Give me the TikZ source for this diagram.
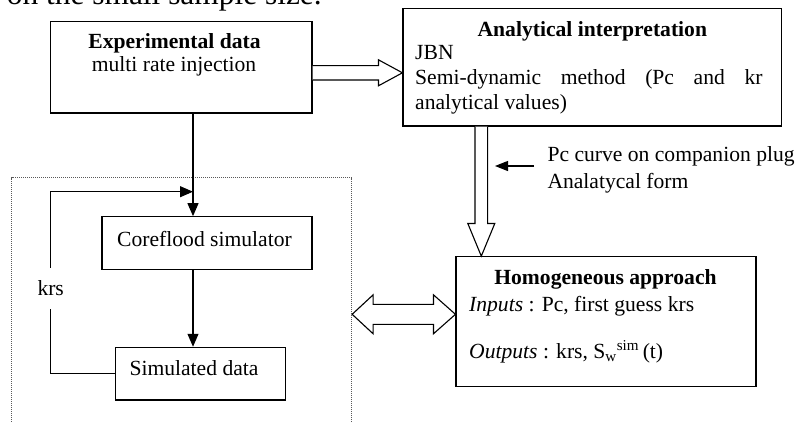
\documentclass[tikz,border=0pt]{standalone}
\usepackage{fontspec}
\setmainfont{Liberation Serif}
\usetikzlibrary{calc,arrows.meta}
\begin{document}
\begin{tikzpicture}[x=1pt,y=-1pt,
  box/.style={draw,line width=1.1pt,inner sep=0pt,rectangle},
  txt/.style={inner sep=0pt,font=\fontsize{21.6}{24.5}\selectfont},
  arr/.style={line width=1.1pt,-{Triangle[length=13pt,width=11pt]}},
  plain/.style={line width=1.1pt},
  hollow/.style={line width=1.1pt,line join=miter,fill=white},
  frame/.style={draw=black!65,line width=0.9pt,dash pattern=on 1pt off 1pt,inner sep=0pt,rectangle}]
\useasboundingbox (0,0) rectangle (798,423);
\clip (0,0) rectangle (798,423);
% cropped page text
\node[inner sep=0pt,anchor=base west,font=\fontsize{31.4}{34}\selectfont] (pagetext) at (6.7,5) {on the small sample size.};
% boxes
\node[box,minimum width=261.3pt,minimum height=91.3pt] (exp) at (181.35,67.35) {};
\node[box,minimum width=378.7pt,minimum height=117.7pt] (anal) at (592.35,67.15) {};
\node[box,minimum width=300pt,minimum height=130pt] (homog) at (606,321.7) {};
\node[box,minimum width=210pt,minimum height=52.6pt] (core) at (207,243) {};
\node[box,minimum width=170pt,minimum height=52.7pt] (sim) at (200.7,373.65) {};
\node[frame,minimum width=340pt,minimum height=262.3pt] (simframe) at (181.7,308.85) {};
% texts
\node[txt,anchor=base,font=\fontsize{21.6}{24.5}\selectfont\bfseries] (expT) at (174.5,48.3) {Experimental data};
\node[txt,anchor=base] (expS) at (174,71.7) {multi rate injection};
\node[txt,anchor=base,font=\fontsize{21.6}{24.5}\selectfont\bfseries] (analT) at (592.3,36) {Analytical interpretation};
\node[txt,anchor=base west] (analL1) at (415,59.3) {JBN};
\node[txt,anchor=base west] (analL2) at (415,84) {\makebox[347.3pt][s]{Semi-dynamic method (Pc and kr}};
\node[txt,anchor=base west] (analL3) at (415,109) {analytical values)};
\node[txt,anchor=base,font=\fontsize{21.6}{24.5}\selectfont\bfseries] (homT) at (605.5,284) {Homogeneous approach};
\node[txt,anchor=base west] (homI) at (469,311) {\textit{Inputs} : Pc, first guess krs};
\node[txt,anchor=base west] (homO) at (469,358) {\textit{Outputs} : krs, S\textsubscript{w}\textsuperscript{sim}\,(t)};
\node[txt,anchor=base] (coreT) at (204.5,246) {Coreflood simulator};
\node[txt,anchor=base] (simT) at (194,375) {Simulated data};
\node[txt,anchor=base,inner xsep=0pt,inner ysep=13pt] (krs) at (50.7,295.7) {krs};
\node[txt,anchor=base west] (pc1) at (547.3,161) {Pc curve on companion plug};
\node[txt,anchor=base west] (pc2) at (547.3,188) {Analatycal form};
% black connectors
\coordinate (join) at (193,191.7);
\draw[plain] (193,0 |- exp.south) -- (join);
\draw[arr] (join) -- (193,0 |- core.north);
\draw[arr] (193,0 |- core.south) -- (193,0 |- sim.north);
\draw[plain] (sim.west) -| (krs.south);
\draw[arr] (krs.north) |- (join);
\coordinate (pcTail) at (534,166);
\coordinate (pcTip) at (495,166);
\draw[line width=1.1pt,-{Triangle[length=13pt,width=10pt]}] (pcTail) -- (pcTip);
% hollow arrows
\path (exp.east |- 0,72.8) coordinate (A0) (anal.west |- 0,72.8) coordinate (A1);
\draw[hollow] ($(A0)+(0,-7.2)$) -- ($(A1)+(-24,-7.2)$) -- ($(A1)+(-24,-13)$) -- (A1) -- ($(A1)+(-24,13)$) -- ($(A1)+(-24,7.2)$) -- ($(A0)+(0,7.2)$);
\path (481.3,0 |- anal.south) coordinate (B0) (481.3,0 |- homog.north) coordinate (B1);
\draw[hollow] ($(B0)+(-6.3,0)$) -- ($(B1)+(-6.3,-32.7)$) -- ($(B1)+(-13.5,-32.7)$) -- (B1) -- ($(B1)+(13.5,-32.7)$) -- ($(B1)+(6.3,-32.7)$) -- ($(B0)+(6.3,0)$);
\path (simframe.east |- 0,314.3) coordinate (C0) (homog.west |- 0,314.3) coordinate (C1);
\draw[hollow] (C0) -- ($(C0)+(21,-19.5)$) -- ($(C0)+(21,-10)$) -- ($(C1)+(-22,-10)$) -- ($(C1)+(-22,-19.5)$) -- (C1) -- ($(C1)+(-22,19.5)$) -- ($(C1)+(-22,10)$) -- ($(C0)+(21,10)$) -- ($(C0)+(21,19.5)$) -- cycle;
\end{tikzpicture}
\end{document}
